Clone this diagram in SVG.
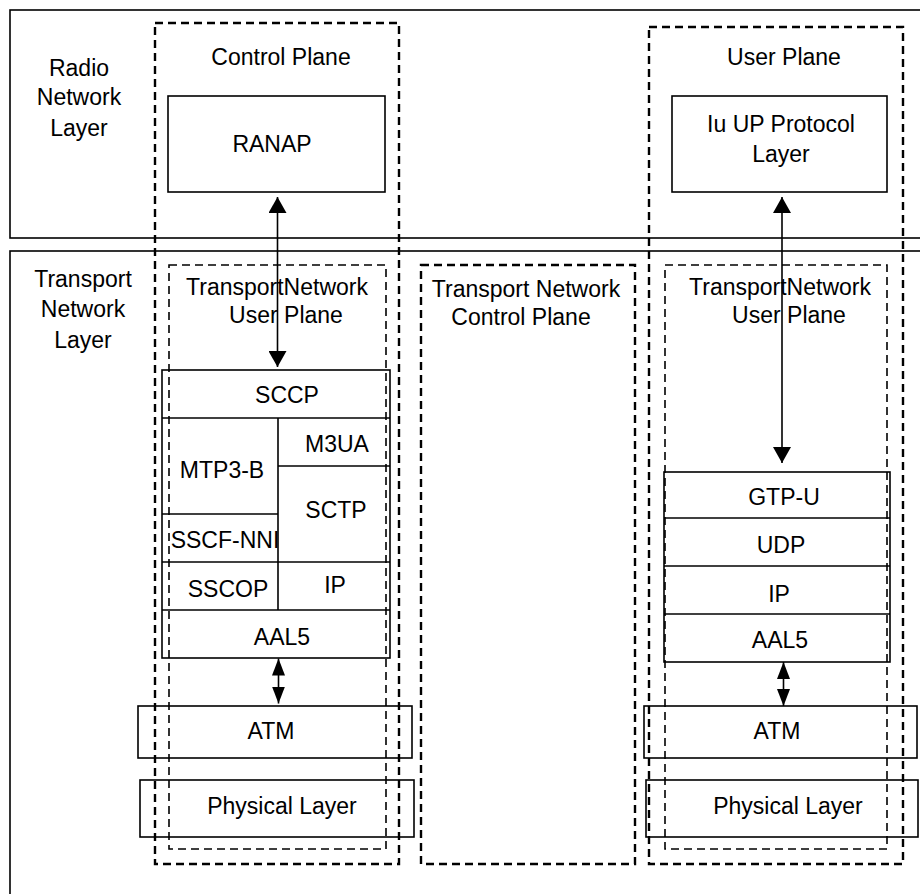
<svg xmlns="http://www.w3.org/2000/svg" width="920" height="894" viewBox="0 0 920 894">
<style>
  text { font-family: "Liberation Sans", Arial, sans-serif; font-size: 23px; fill: #000; text-anchor: middle; }
  .box { fill: none; stroke: #000; stroke-width: 1.6; }
  .dash { fill: none; stroke: #000; stroke-width: 2.4; stroke-dasharray: 8 5; }
  .dash2 { fill: none; stroke: #000; stroke-width: 1.6; stroke-dasharray: 8 5; }
  .conn { stroke: #000; stroke-width: 1.6; fill: none; }
</style>
<defs>
  <marker id="ah" markerUnits="userSpaceOnUse" markerWidth="16" markerHeight="18" viewBox="0 0 16 18" refX="16" refY="9" orient="auto-start-reverse">
    <path d="M0,0 L16,9 L0,18 z" fill="#000"/>
  </marker>
  <marker id="ahs" markerUnits="userSpaceOnUse" markerWidth="17" markerHeight="13" viewBox="0 0 17 13" refX="17" refY="6.5" orient="auto-start-reverse">
    <path d="M0,0 L17,6.5 L0,13 z" fill="#000"/>
  </marker>
</defs>
<rect width="920" height="894" fill="#fff"/>

<g id="radio-network-layer">
  <rect class="box" x="10" y="10" width="920" height="228"/>
  <text x="79" y="76">Radio</text>
  <text x="79" y="105">Network</text>
  <text x="79" y="136">Layer</text>
</g>

<g id="transport-network-layer">
  <rect class="box" x="10" y="251" width="920" height="660"/>
  <text x="83" y="287">Transport</text>
  <text x="83" y="317">Network</text>
  <text x="83" y="348">Layer</text>
</g>

<g id="ranap">
  <rect class="box" x="168" y="96" width="217" height="96"/>
  <text x="272" y="152">RANAP</text>
</g>

<g id="iu-up">
  <rect class="box" x="672" y="96" width="215" height="96"/>
  <text x="781" y="132">Iu UP Protocol</text>
  <text x="781" y="162">Layer</text>
</g>

<g id="cp-stack">
  <rect class="box" x="162" y="370" width="228" height="288"/>
  <line class="box" x1="162" y1="418" x2="390" y2="418"/>
  <line class="box" x1="278" y1="418" x2="278" y2="610"/>
  <line class="box" x1="278" y1="466" x2="390" y2="466"/>
  <line class="box" x1="162" y1="514" x2="278" y2="514"/>
  <line class="box" x1="162" y1="562" x2="390" y2="562"/>
  <line class="box" x1="162" y1="610" x2="390" y2="610"/>
  <text x="287" y="403">SCCP</text>
  <text x="337" y="452">M3UA</text>
  <text x="222" y="478">MTP3-B</text>
  <text x="336" y="518">SCTP</text>
  <text x="225" y="548">SSCF-NNI</text>
  <text x="228" y="597">SSCOP</text>
  <text x="335" y="593">IP</text>
  <text x="282" y="645">AAL5</text>
</g>

<g id="up-stack">
  <rect class="box" x="664" y="472" width="226" height="190"/>
  <line class="box" x1="664" y1="518" x2="890" y2="518"/>
  <line class="box" x1="664" y1="566" x2="890" y2="566"/>
  <line class="box" x1="664" y1="614" x2="890" y2="614"/>
  <text x="784" y="505">GTP-U</text>
  <text x="781" y="553">UDP</text>
  <text x="779" y="602">IP</text>
  <text x="780" y="648">AAL5</text>
</g>

<g id="atm-left">
  <rect class="box" x="138" y="706" width="274" height="52"/>
  <text x="271" y="739">ATM</text>
</g>
<g id="phy-left">
  <rect class="box" x="140" y="780" width="274" height="57"/>
  <text x="282" y="814">Physical Layer</text>
</g>
<g id="atm-right">
  <rect class="box" x="644" y="706" width="273" height="52"/>
  <text x="777" y="739">ATM</text>
</g>
<g id="phy-right">
  <rect class="box" x="646" y="780" width="272" height="57"/>
  <text x="788" y="814">Physical Layer</text>
</g>

<g id="control-plane">
  <rect class="dash" x="155" y="23" width="244" height="841"/>
  <text x="281" y="65">Control Plane</text>
</g>
<g id="user-plane">
  <rect class="dash" x="649" y="27" width="254" height="837"/>
  <text x="784" y="65">User Plane</text>
</g>
<g id="tn-user-plane-left">
  <rect class="dash2" x="169" y="265" width="217" height="584"/>
  <text x="277" y="295">TransportNetwork</text>
  <text x="286" y="323">User Plane</text>
</g>
<g id="tn-control-plane">
  <rect class="dash" x="421" y="265" width="214" height="599"/>
  <text x="526" y="297">Transport Network</text>
  <text x="521" y="325">Control Plane</text>
</g>
<g id="tn-user-plane-right">
  <rect class="dash2" x="665" y="265" width="222" height="584"/>
  <text x="780" y="295">TransportNetwork</text>
  <text x="789" y="323">User Plane</text>
</g>

<g id="connectors">
  <line class="conn" x1="277.5" y1="367" x2="277.5" y2="197" marker-start="url(#ah)" marker-end="url(#ah)"/>
  <line class="conn" x1="782" y1="463" x2="782" y2="197" marker-start="url(#ah)" marker-end="url(#ah)"/>
  <line class="conn" x1="278.5" y1="658.5" x2="278.5" y2="703.5" marker-start="url(#ahs)" marker-end="url(#ahs)"/>
  <line class="conn" x1="783.5" y1="662" x2="783.5" y2="706" marker-start="url(#ahs)" marker-end="url(#ahs)"/>
</g>
</svg>
